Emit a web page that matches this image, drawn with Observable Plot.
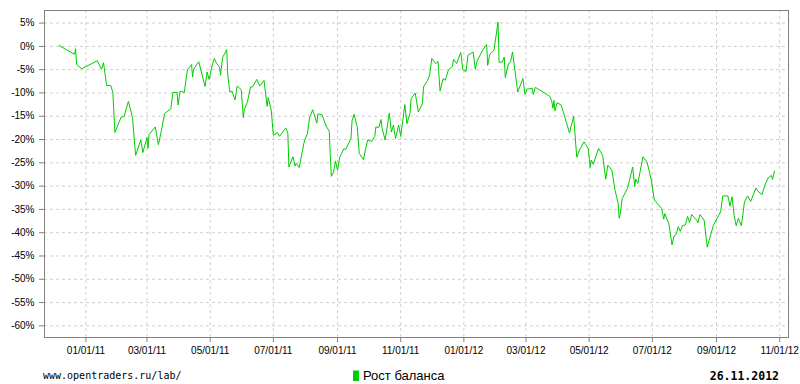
<!DOCTYPE html>
<html><head><meta charset="utf-8">
<script src="https://cdn.jsdelivr.net/npm/d3@7"></script>
<script src="https://cdn.jsdelivr.net/npm/@observablehq/plot@0.6"></script>
<style>
body{margin:0;background:#fff;width:800px;height:384px;overflow:hidden}
#chart svg{display:block}
#footer{display:block}
</style></head><body>
<div id="chart"></div>
<svg id="footer" width="800" height="22"></svg>
<script>
const dates = ["2010-12-06","2010-12-21","2010-12-22","2010-12-23","2010-12-28","2011-01-12","2011-01-16","2011-01-18","2011-01-21","2011-01-25",
"2011-01-27","2011-01-29","2011-02-04","2011-02-07","2011-02-09","2011-02-11","2011-02-15","2011-02-18","2011-02-23","2011-02-25",
"2011-03-01","2011-03-02","2011-03-03","2011-03-09","2011-03-12","2011-03-15","2011-03-18","2011-03-24","2011-03-26","2011-03-30",
"2011-03-31","2011-04-02","2011-04-06","2011-04-09","2011-04-13","2011-04-14","2011-04-15","2011-04-20","2011-04-26","2011-04-28",
"2011-04-30","2011-05-03","2011-05-05","2011-05-07","2011-05-10","2011-05-11","2011-05-13","2011-05-17","2011-05-18","2011-05-20",
"2011-05-22","2011-05-25","2011-05-27","2011-05-31","2011-06-02","2011-06-03","2011-06-06","2011-06-09","2011-06-11","2011-06-15",
"2011-06-18","2011-06-22","2011-06-25","2011-06-26","2011-06-29","2011-07-01","2011-07-05","2011-07-07","2011-07-13","2011-07-15",
"2011-07-16","2011-07-20","2011-07-22","2011-07-23","2011-07-26","2011-07-29","2011-07-31","2011-08-03","2011-08-05","2011-08-08",
"2011-08-12","2011-08-13","2011-08-17","2011-08-21","2011-08-24","2011-08-25","2011-08-26","2011-08-28","2011-08-30","2011-09-01",
"2011-09-03","2011-09-07","2011-09-09","2011-09-12","2011-09-14","2011-09-15","2011-09-17","2011-09-20","2011-09-22","2011-09-26",
"2011-09-30","2011-10-04","2011-10-07","2011-10-08","2011-10-11","2011-10-13","2011-10-14","2011-10-17","2011-10-21","2011-10-23",
"2011-10-25","2011-10-27","2011-10-30","2011-11-01","2011-11-05","2011-11-07","2011-11-10","2011-11-11","2011-11-15","2011-11-18",
"2011-11-22","2011-11-23","2011-11-27","2011-11-29","2011-12-01","2011-12-05","2011-12-07","2011-12-09","2011-12-12","2011-12-14",
"2011-12-17","2011-12-21","2011-12-22","2011-12-25","2011-12-29","2011-12-31","2012-01-03","2012-01-05","2012-01-10","2012-01-12",
"2012-01-14","2012-01-19","2012-01-23","2012-01-24","2012-01-26","2012-01-30","2012-02-03","2012-02-04","2012-02-07","2012-02-09",
"2012-02-10","2012-02-13","2012-02-15","2012-02-17","2012-02-22","2012-02-27","2012-02-29","2012-03-02","2012-03-07","2012-03-08",
"2012-03-10","2012-03-24","2012-03-26","2012-03-27","2012-03-28","2012-03-29","2012-03-31","2012-04-04","2012-04-12","2012-04-16",
"2012-04-19","2012-04-22","2012-04-26","2012-04-30","2012-05-02","2012-05-03","2012-05-05","2012-05-10","2012-05-14","2012-05-17",
"2012-05-19","2012-05-23","2012-05-26","2012-05-29","2012-05-30","2012-05-31","2012-06-02","2012-06-07","2012-06-12","2012-06-14",
"2012-06-15","2012-06-17","2012-06-22","2012-06-26","2012-06-30","2012-07-03","2012-07-10","2012-07-12","2012-07-13","2012-07-17",
"2012-07-20","2012-07-22","2012-07-24","2012-07-26","2012-07-28","2012-07-30","2012-08-02","2012-08-04","2012-08-06","2012-08-08",
"2012-08-13","2012-08-14","2012-08-16","2012-08-20","2012-08-23","2012-08-26","2012-08-29","2012-09-05","2012-09-07","2012-09-12",
"2012-09-14","2012-09-16","2012-09-18","2012-09-20","2012-09-22","2012-09-25","2012-09-28","2012-10-01","2012-10-04","2012-10-09",
"2012-10-11","2012-10-15","2012-10-18","2012-10-21","2012-10-24","2012-10-25","2012-10-27"];

const balance = [0.2,-1.7,-0.5,-3.9,-4.8,-3.1,-4.9,-3.5,-8.4,-8.4,
-9.9,-18.5,-15.2,-15.0,-13.4,-11.8,-15.3,-23.4,-20.1,-22.8,
-19.6,-21.9,-18.9,-17.3,-21.1,-18.0,-14.4,-13.4,-9.9,-9.9,
-12.6,-9.6,-9.9,-5.0,-3.9,-6.6,-4.9,-3.3,-8.6,-5.5,
-7.1,-4.0,-2.6,-3.6,-4.4,-6.2,-2.4,-0.7,-6.2,-9.8,
-9.6,-11.5,-8.5,-9.3,-15.3,-13.5,-11.9,-8.7,-8.7,-7.1,
-8.5,-7.3,-12.9,-11.0,-13.7,-19.1,-18.5,-19.3,-17.5,-18.6,
-25.9,-23.7,-25.7,-25.1,-26.0,-22.5,-20.3,-18.7,-15.3,-13.6,
-16.5,-14.5,-14.7,-17.1,-18.2,-23.4,-27.9,-27.1,-24.6,-26.6,
-23.9,-22.0,-22.1,-20.7,-19.7,-16.0,-14.6,-17.3,-23.0,-24.3,
-20.1,-20.4,-19.3,-17.3,-17.4,-15.7,-17.6,-20.1,-14.3,-18.4,
-16.9,-19.8,-16.9,-19.3,-12.5,-16.6,-14.3,-11.2,-10.0,-14.1,
-12.3,-8.7,-7.3,-6.1,-2.6,-3.7,-3.2,-9.6,-6.9,-7.3,
-5.1,-4.3,-2.8,-3.7,-1.3,-5.0,-5.4,-1.9,-1.2,-4.9,
-3.0,-0.9,0.4,-4.1,-1.7,-0.9,5.2,-3.4,-3.4,-2.3,
-6.7,-3.7,-3.4,-1.2,-9.8,-6.9,-10.3,-9.2,-9.0,-10.3,
-8.8,-10.7,-11.9,-13.3,-11.6,-13.9,-12.1,-12.6,-18.6,-15.0,
-23.8,-22.1,-20.5,-21.9,-26.0,-24.4,-25.3,-21.9,-23.4,-28.5,
-25.5,-26.6,-30.9,-33.7,-36.9,-36.0,-32.6,-30.5,-25.9,-30.1,
-28.5,-29.4,-23.7,-24.9,-28.7,-33.0,-34.8,-37.1,-35.9,-38.1,
-42.6,-40.7,-40.4,-38.7,-39.7,-38.5,-38.3,-36.5,-37.8,-36.1,
-37.4,-37.9,-36.1,-37.3,-43.1,-40.7,-38.4,-35.5,-32.1,-32.1,
-34.3,-32.3,-36.3,-38.5,-36.9,-38.5,-33.4,-32.1,-33.3,-30.4,
-31.1,-31.8,-29.6,-28.2,-27.7,-28.6,-26.8];

const xTickLabels = ["2011-01-01","2011-03-01","2011-05-01","2011-07-01","2011-09-01","2011-11-01",
"2012-01-01","2012-03-01","2012-05-01","2012-07-01","2012-09-01","2012-11-01"];
const yTicks = [5,0,-5,-10,-15,-20,-25,-30,-35,-40,-45,-50,-55,-60];
const seriesName = "Рост баланса";
const siteText = "www.opentraders.ru/lab/";
const reportDate = "26.11.2012";

const data = dates.map((d, i) => ({date: new Date(d), value: balance[i]}));
const xTicks = xTickLabels.map(s => new Date(s));
const lineColor = "#00cc00";

const chart = Plot.plot({
  width: 800, height: 362,
  marginLeft: 44, marginRight: 12, marginTop: 10, marginBottom: 25,
  style: {fontFamily: "'Liberation Sans', Arial, sans-serif", fontSize: "10px", color: "#000", background: "#fff"},
  x: {type: "utc", domain: [new Date("2010-11-22"), new Date("2012-11-09T12:00:00Z")]},
  y: {domain: [-62.5, 7.7]},
  marks: [
    Plot.gridX(xTicks, {stroke: "#cfcfcf", strokeOpacity: 1, strokeDasharray: "3,3"}),
    Plot.gridY(yTicks, {stroke: "#cfcfcf", strokeOpacity: 1, strokeDasharray: "3,3"}),
    Plot.line(data, {x: "date", y: "value", stroke: lineColor, strokeWidth: 1}),
    Plot.frame({stroke: "#808080"}),
    Plot.axisX({ticks: xTicks, tickFormat: d3.utcFormat("%m/%d/%y"), tickSize: 5, tickPadding: 4, stroke: "#808080", fill: "#000", label: null}),
    Plot.axisY({ticks: yTicks, tickFormat: d => d + "%", tickSize: 5, tickPadding: 5, stroke: "#808080", fill: "#000", label: null})
  ]
});
document.getElementById("chart").appendChild(chart);

const f = d3.select("#footer");
f.append("text").attr("x", 43).attr("y", 16.5)
  .attr("font-family", "'DejaVu Sans Mono', monospace").attr("font-size", 10).attr("fill", "#000").text(siteText);
f.append("rect").attr("x", 353).attr("y", 8.5).attr("width", 6).attr("height", 10.5).attr("fill", lineColor);
f.append("text").attr("x", 363).attr("y", 18)
  .attr("font-family", "'Liberation Sans', Arial, sans-serif").attr("font-size", 13).attr("fill", "#000").text(seriesName);
f.append("text").attr("x", 779).attr("y", 18).attr("text-anchor", "end")
  .attr("font-family", "'DejaVu Sans Mono', monospace").attr("font-weight", "bold").attr("font-size", 11.5).attr("fill", "#000").text(reportDate);
</script>
</body></html>
